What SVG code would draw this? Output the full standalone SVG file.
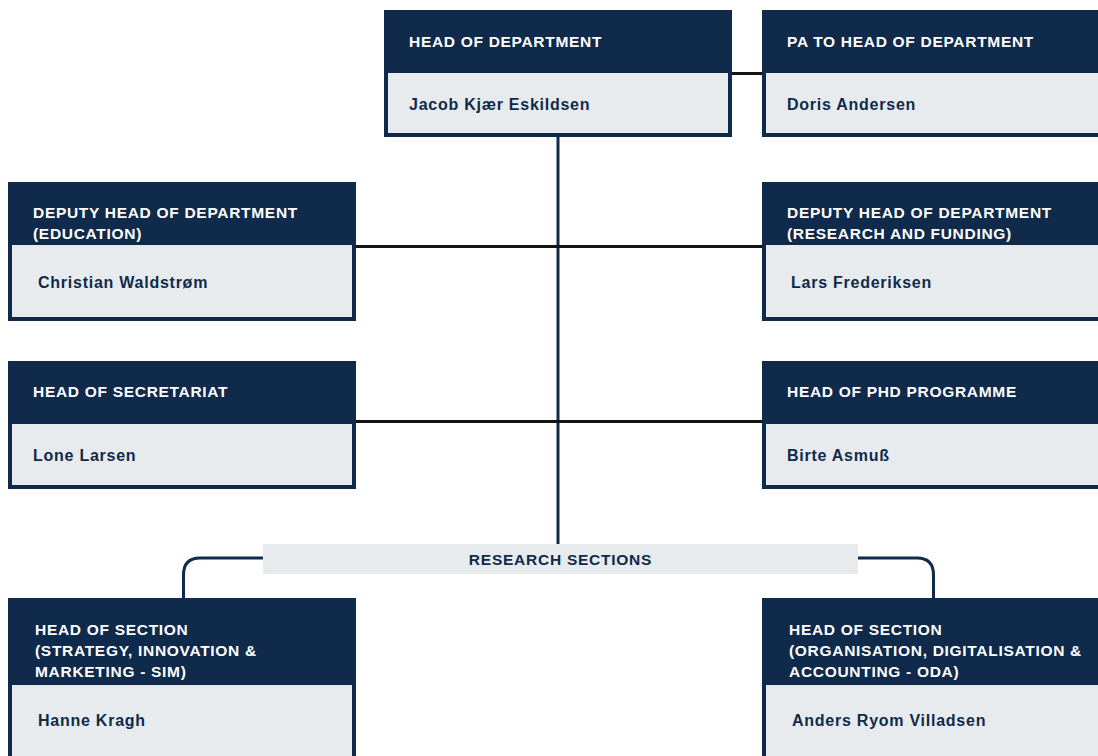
<svg xmlns="http://www.w3.org/2000/svg" width="1098" height="756" viewBox="0 0 1098 756">
<style>
.outer{fill:#0f2a4a}
.inner{fill:#e8ebee}
.hd{font-family:"Liberation Sans",Arial,sans-serif;font-size:15.5px;font-weight:bold;fill:#ffffff;letter-spacing:0.7px}
.nm{font-family:"Liberation Sans",Arial,sans-serif;font-size:16px;font-weight:bold;fill:#0f2a4a;letter-spacing:0.75px}
.blk{stroke:#141414;stroke-width:3;fill:none}
.nav{stroke:#0f2a4a;stroke-width:3;fill:none}
</style>
<rect width="1098" height="756" fill="#ffffff"/>
<g id="connectors">
  <line class="blk" x1="730" y1="73.5" x2="764" y2="73.5"/>
  <line class="nav" x1="558" y1="135" x2="558" y2="546"/>
  <line class="blk" x1="354" y1="246.5" x2="764" y2="246.5"/>
  <line class="blk" x1="354" y1="421.5" x2="764" y2="421.5"/>
  <path class="nav" d="M265,558 H200 Q183.5,558 183.5,575 V600"/>
  <path class="nav" d="M856,558 H917 Q933.5,558 933.5,575 V600"/>
</g>
<g id="head">
  <rect class="outer" x="384" y="10" width="348" height="127"/>
  <rect class="inner" x="388" y="73" width="340" height="60"/>
  <text class="hd" x="409" y="47">HEAD OF DEPARTMENT</text>
  <text class="nm" x="409" y="110">Jacob Kjær Eskildsen</text>
</g>
<g id="pa">
  <rect class="outer" x="762" y="10" width="350" height="127"/>
  <rect class="inner" x="766" y="73" width="346" height="60"/>
  <text class="hd" x="787" y="47">PA TO HEAD OF DEPARTMENT</text>
  <text class="nm" x="787" y="110">Doris Andersen</text>
</g>
<g id="deputy-edu">
  <rect class="outer" x="8" y="182" width="348" height="139"/>
  <rect class="inner" x="12" y="245" width="340" height="72"/>
  <text class="hd" x="33" y="218">DEPUTY HEAD OF DEPARTMENT</text>
  <text class="hd" x="33" y="239">(EDUCATION)</text>
  <text class="nm" x="38" y="288">Christian Waldstrøm</text>
</g>
<g id="deputy-res">
  <rect class="outer" x="762" y="182" width="350" height="139"/>
  <rect class="inner" x="766" y="245" width="346" height="72"/>
  <text class="hd" x="787" y="218">DEPUTY HEAD OF DEPARTMENT</text>
  <text class="hd" x="787" y="239">(RESEARCH AND FUNDING)</text>
  <text class="nm" x="791" y="288">Lars Frederiksen</text>
</g>
<g id="secretariat">
  <rect class="outer" x="8" y="361" width="348" height="128"/>
  <rect class="inner" x="12" y="424" width="340" height="61"/>
  <text class="hd" x="33" y="397">HEAD OF SECRETARIAT</text>
  <text class="nm" x="33" y="461">Lone Larsen</text>
</g>
<g id="phd">
  <rect class="outer" x="762" y="361" width="350" height="128"/>
  <rect class="inner" x="766" y="424" width="346" height="61"/>
  <text class="hd" x="787" y="397">HEAD OF PHD PROGRAMME</text>
  <text class="nm" x="787" y="461">Birte Asmuß</text>
</g>
<g id="research-sections">
  <rect class="inner" x="263" y="544" width="595" height="30"/>
  <text class="nm" x="560.5" y="565" text-anchor="middle" style="font-size:15.5px">RESEARCH SECTIONS</text>
</g>
<g id="section-sim">
  <rect class="outer" x="8" y="598" width="348" height="180"/>
  <rect class="inner" x="12" y="685" width="340" height="90"/>
  <text class="hd" x="35" y="635">HEAD OF SECTION</text>
  <text class="hd" x="35" y="656">(STRATEGY, INNOVATION &amp;</text>
  <text class="hd" x="35" y="677">MARKETING - SIM)</text>
  <text class="nm" x="38" y="726">Hanne Kragh</text>
</g>
<g id="section-oda">
  <rect class="outer" x="762" y="598" width="350" height="180"/>
  <rect class="inner" x="766" y="685" width="346" height="90"/>
  <text class="hd" x="789" y="635">HEAD OF SECTION</text>
  <text class="hd" x="789" y="656">(ORGANISATION, DIGITALISATION &amp;</text>
  <text class="hd" x="789" y="677">ACCOUNTING - ODA)</text>
  <text class="nm" x="792" y="726">Anders Ryom Villadsen</text>
</g>
</svg>
